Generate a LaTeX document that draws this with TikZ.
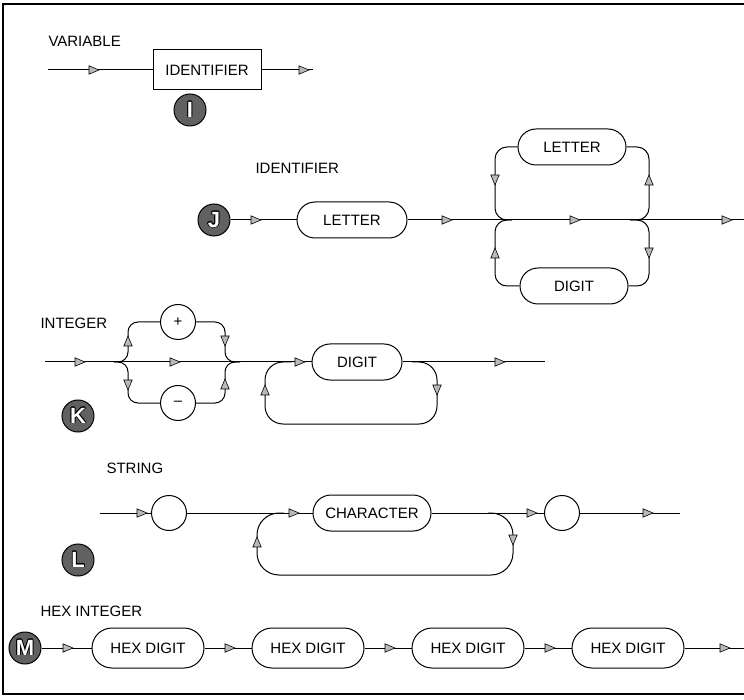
\documentclass[tikz,border=0pt]{standalone}
\usepackage{fontspec}
\setmainfont{Liberation Sans}
\usepackage{contour}
\contourlength{0.7pt}
\newcommand\diagfont{\fontsize{15}{17}\selectfont}
\begin{document}
\begin{tikzpicture}[x=1pt,y=-1pt,line width=1pt,
  rbox/.style={draw, rectangle, rounded corners=18pt, minimum width=#1,
    minimum height=36pt, inner sep=0pt, font=\diagfont},
  sbox/.style={draw, rectangle, minimum width=#1, minimum height=40pt,
    inner sep=0pt, font=\diagfont},
  cbox/.style={draw, circle, minimum size=35pt, inner sep=0pt, font=\diagfont},
  badge/.style={draw=black, circle, fill=black!62, minimum size=32pt,
    inner sep=0pt, font=\bfseries\fontsize{22}{22}\selectfont},
  title/.style={anchor=west, inner sep=0pt, font=\diagfont},
  tip/.pic={\filldraw[fill=gray!55, draw=black, line width=0.6pt]
    (5,0) -- (-5,4.2) -- (-5,-4.2) -- cycle;},
  rail/.style={rounded corners=#1}
]
\useasboundingbox (0,0) rectangle (744,700);
% frame
\draw[line width=1.6pt] (750,4) -- (3,4) -- (3,694) -- (750,694);

% ---------------- VARIABLE ----------------
\node[title] (tI) at (48,41) {VARIABLE};
\coordinate (iS) at (48,70);
\coordinate (iE) at (313,70);
\node[sbox=108pt] (iBox) at (207,70) {IDENTIFIER};
\draw (iS) -- (iBox);
\draw (iBox) -- (iE);
\pic at (94,70) {tip};
\pic at (304,70) {tip};
\node[badge] (bI) at (190,110) {\contour{black}{\textcolor{white}{I}}};

% ---------------- IDENTIFIER ----------------
\node[title] (tJ) at (255,168) {IDENTIFIER};
\node[badge] (bJ) at (214,220) {\contour{black}{\textcolor{white}{J}}};
\node[rbox=110pt] (jL) at (352,220) {LETTER};
\node[rbox=108pt] (jU) at (572,147) {LETTER};
\node[rbox=108pt] (jD) at (574,286) {DIGIT};
\coordinate (jE) at (746,220);
\coordinate (jA) at (512,220);
\coordinate (jB) at (630,220);
\draw (bJ) -- (jL);
\draw (jL) -- (jE);
\draw[rail=12pt] (jU.west) -| (495,220) -- (jA);
\draw[rail=12pt] (jU.east) -| (649,220) -- (jB);
\draw[rail=12pt] (jD.west) -| (495,220) -- (jA);
\draw[rail=12pt] (jD.east) -| (649,220) -- (jB);
\pic at (256,220) {tip};
\pic at (447,220) {tip};
\pic at (575,220) {tip};
\pic at (727,220) {tip};
\pic[rotate=-90] at (495,180) {tip};
\pic[rotate=90] at (649,180) {tip};
\pic[rotate=90] at (495,253) {tip};
\pic[rotate=-90] at (649,253) {tip};

% ---------------- INTEGER ----------------
\node[title] (tK) at (40,323) {INTEGER};
\coordinate (kS) at (45,362);
\coordinate (kE) at (545,362);
\coordinate (kSplit) at (114,362);
\coordinate (kJoin) at (240,362);
\node[cbox] (kP) at (178,322) {+};
\node[cbox] (kM) at (178,403) {\textendash};
\node[rbox=90pt] (kD) at (357,362) {DIGIT};
\draw (kS) -- (kD);
\draw (kD) -- (kE);
\draw[rail=10pt] (kSplit) -| (128,322) -- (kP.west);
\draw[rail=10pt] (kSplit) -| (128,403) -- (kM.west);
\draw[rail=10pt] (kP.east) -| (225,362) -- (kJoin);
\draw[rail=10pt] (kM.east) -| (225,362) -- (kJoin);
\coordinate (kLa) at (412,362);
\coordinate (kLb) at (292,362);
\draw[rail=18pt] (kLa) -- (437,362) -- (437,424) -- (265,424) -- (265,362) -- (kLb);
\pic at (80,362) {tip};
\pic at (175,362) {tip};
\pic at (300,362) {tip};
\pic at (500,362) {tip};
\pic[rotate=90] at (128,341) {tip};
\pic[rotate=-90] at (128,385) {tip};
\pic[rotate=-90] at (225,341) {tip};
\pic[rotate=90] at (225,384) {tip};
\pic[rotate=-90] at (437,390) {tip};
\pic[rotate=90] at (265,390) {tip};
\node[badge] (bK) at (78,416) {\contour{black}{\textcolor{white}{K}}};

% ---------------- STRING ----------------
\node[title] (tL) at (106,468) {STRING};
\coordinate (lS) at (100,513);
\coordinate (lE) at (680,513);
\node[cbox] (lQ1) at (169,513) {};
\node[rbox=118pt] (lC) at (372,513) {CHARACTER};
\node[cbox] (lQ2) at (562,513) {};
\draw (lS) -- (lQ1) -- (lC) -- (lQ2) -- (lE);
\coordinate (lLa) at (488,513);
\coordinate (lLb) at (284,513);
\draw[rail=22pt] (lLa) -- (513,513) -- (513,575) -- (257,575) -- (257,513) -- (lLb);
\pic at (142,513) {tip};
\pic at (294,513) {tip};
\pic at (532,513) {tip};
\pic at (648,513) {tip};
\pic[rotate=90] at (257,542) {tip};
\pic[rotate=-90] at (513,540) {tip};
\node[badge] (bL) at (78,560) {\contour{black}{\textcolor{white}{L}}};

% ---------------- HEX INTEGER ----------------
\node[title] (tM) at (40,611) {HEX INTEGER};
\node[badge] (bM) at (25,648) {\contour{black}{\textcolor{white}{M}}};
\foreach \i/\x in {1/148,2/308,3/468,4/628}
  \node[rbox=112pt, minimum height=40pt, rounded corners=20pt] (m\i) at (\x,648) {HEX DIGIT};
\coordinate (mE) at (746,648);
\draw (bM) -- (m1) -- (m2) -- (m3) -- (m4) -- (mE);
\foreach \x in {68,230,390,550,725}
  \pic at (\x,648) {tip};
\end{tikzpicture}
\end{document}
